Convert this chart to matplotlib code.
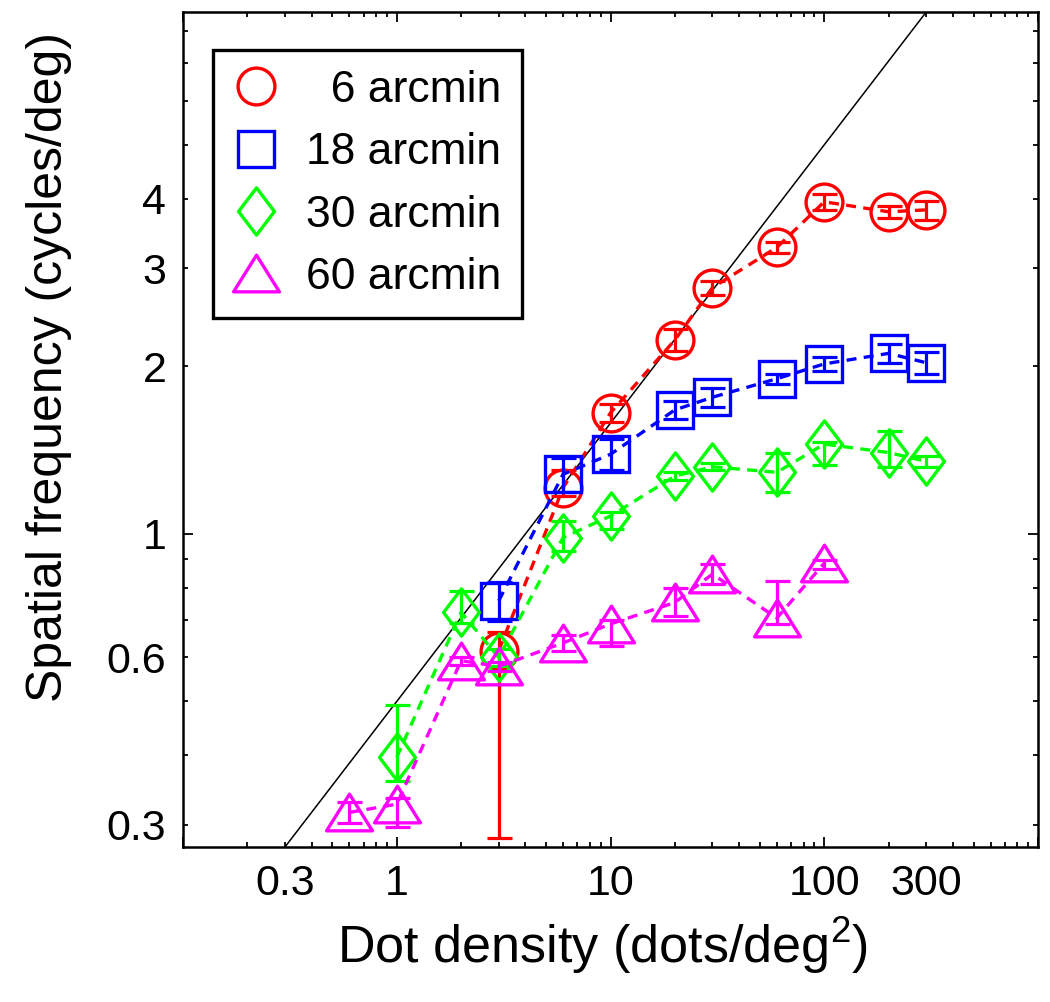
import numpy as np
import matplotlib
matplotlib.use('Agg')
import matplotlib.pyplot as plt
from matplotlib.path import Path
from matplotlib.lines import Line2D
from matplotlib.ticker import LogLocator, FuncFormatter

plt.rcParams['font.family'] = ['Liberation Sans', 'DejaVu Sans']
plt.rcParams['mathtext.fontset'] = 'custom'
plt.rcParams['mathtext.rm'] = 'Liberation Sans'

# ---------------- data ----------------
red_x = [3, 6, 10, 20, 30, 60, 100, 200, 300]
red_y = [0.617, 1.21, 1.65, 2.23, 2.77, 3.27, 3.95, 3.79, 3.82]
red_lo = [0.333, 0.04, 0.06, 0.10, 0.08, 0.08, 0.13, 0.09, 0.15]
red_hi = [0.05, 0.09, 0.06, 0.10, 0.08, 0.08, 0.13, 0.09, 0.15]

blue_x = [3, 6, 10, 20, 30, 60, 100, 200, 300]
blue_y = [0.758, 1.28, 1.39, 1.67, 1.76, 1.90, 2.02, 2.11, 2.03]
blue_lo = [0.06, 0.09, 0.09, 0.06, 0.07, 0.04, 0.06, 0.08, 0.09]
blue_hi = [0.06, 0.09, 0.09, 0.06, 0.07, 0.04, 0.06, 0.08, 0.09]

green_x = [1, 2, 3, 6, 10, 20, 30, 60, 100, 200, 300]
green_y = [0.397, 0.723, 0.60, 0.985, 1.077, 1.27, 1.32, 1.29, 1.45, 1.40, 1.35]
green_lo = [0.037, 0.03, 0.02, 0.055, 0.057, 0.02, 0.02, 0.10, 0.12, 0.08, 0.03]
green_hi = [0.095, 0.067, 0.02, 0.07, 0.02, 0.02, 0.02, 0.11, 0.01, 0.13, 0.03]

mag_x = [0.6, 1, 2, 3, 6, 10, 20, 30, 60, 100]
mag_y = [0.316, 0.327, 0.592, 0.578, 0.637, 0.689, 0.753, 0.847, 0.706, 0.886]
mag_lo = [0.014, 0.03, 0.01, 0.01, 0.02, 0.06, 0.04, 0.035, 0.016, 0.02]
mag_hi = [0.014, 0.008, 0.01, 0.01, 0.02, 0.01, 0.047, 0.035, 0.117, 0.01]

ref_x = [0.3, 300]
ref_y = [0.2739, 8.660]

labels = ['\u20076 arcmin', '18 arcmin', '30 arcmin', '60 arcmin']

x_major_labels = {1: '1', 10: '10', 100: '100'}
x_minor_labels = {0.3: '0.3', 300: '300'}
y_major_labels = {1: '1'}
y_minor_labels = {0.3: '0.3', 0.6: '0.6', 2: '2', 3: '3', 4: '4'}

# ---------------- markers ----------------
diamond = Path([(0, 1), (0.76, 0), (0, -1), (-0.76, 0), (0, 1)],
               [Path.MOVETO, Path.LINETO, Path.LINETO, Path.LINETO, Path.CLOSEPOLY])
triangle = Path([(0, 0.8), (-1, -0.8), (1, -0.8), (0, 0.8)],
                [Path.MOVETO, Path.LINETO, Path.LINETO, Path.CLOSEPOLY])

series = [
    (red_x, red_y, red_lo, red_hi, (1, 0, 0), 'o', 26.5),
    (blue_x, blue_y, blue_lo, blue_hi, (0, 0, 1), 's', 26.5),
    (green_x, green_y, green_lo, green_hi, (0, 1, 0), diamond, 34),
    (mag_x, mag_y, mag_lo, mag_hi, (1, 0, 1), triangle, 33),
]

fig = plt.figure(figsize=(10.5, 10.02), dpi=100)
ax = fig.add_axes([183 / 1050, 1 - 847 / 1002, 855 / 1050, 835 / 1002])
ax.set_xscale('log')
ax.set_yscale('log')

ax.plot(ref_x, ref_y, color='black', lw=1.1, zorder=1)

handles = []
for i, (x, y, lo, hi, c, m, ms) in enumerate(series):
    ax.errorbar(x, y, yerr=[lo, hi], fmt='none', ecolor=c, elinewidth=2.3,
                capsize=9, capthick=2.3, zorder=2 + i)
    ax.plot(x, y, color=c, lw=2.4, ls=(0, (3.0, 2.2)), dash_capstyle='butt',
            marker=m, ms=ms, mfc='none', mec=c, mew=2.4, zorder=2 + i)
    handles.append(Line2D([], [], ls='none', marker=m, ms=ms, mfc='none',
                          mec=c, mew=2.4))

ax.set_xlim(0.1, 1000)
ax.set_ylim(ref_y[0], ref_y[1])

# ticks
ax.xaxis.set_major_locator(LogLocator(base=10, numticks=20))
ax.xaxis.set_minor_locator(LogLocator(base=10, subs=np.arange(2, 10), numticks=20))
ax.yaxis.set_major_locator(LogLocator(base=10, numticks=20))
ax.yaxis.set_minor_locator(LogLocator(base=10, subs=np.arange(2, 10), numticks=20))


def make_fmt(d):
    def f(v, pos):
        for k, s in d.items():
            if abs(v - k) / k < 1e-6:
                return s
        return ''
    return FuncFormatter(f)


ax.xaxis.set_major_formatter(make_fmt(x_major_labels))
ax.xaxis.set_minor_formatter(make_fmt(x_minor_labels))
ax.yaxis.set_major_formatter(make_fmt(y_major_labels))
ax.yaxis.set_minor_formatter(make_fmt(y_minor_labels))

ax.tick_params(which='both', direction='in', top=True, right=True,
               labelsize=31, width=1.3, pad=12)
ax.tick_params(which='major', length=7.5)
ax.tick_params(which='minor', length=3.8)
for s in ax.spines.values():
    s.set_linewidth(1.8)

ax.set_xlabel(r'Dot density (dots/deg$^{\mathregular{2}}$)', fontsize=37.5)
ax.set_ylabel('Spatial frequency (cycles/deg)', fontsize=36)
ax.xaxis.set_label_coords(0.49, -0.082)
ax.yaxis.set_label_coords(-0.13, 0.575)

leg = ax.legend(handles, labels, loc='upper left', bbox_to_anchor=(0.035, 0.9545),
                fontsize=32, frameon=True, fancybox=False, framealpha=1,
                edgecolor='black', handlelength=1.05, handletextpad=0.6,
                borderpad=0.45, labelspacing=0.48, borderaxespad=0)
leg.get_frame().set_linewidth(2.4)

fig.savefig('out.png', dpi=100)
